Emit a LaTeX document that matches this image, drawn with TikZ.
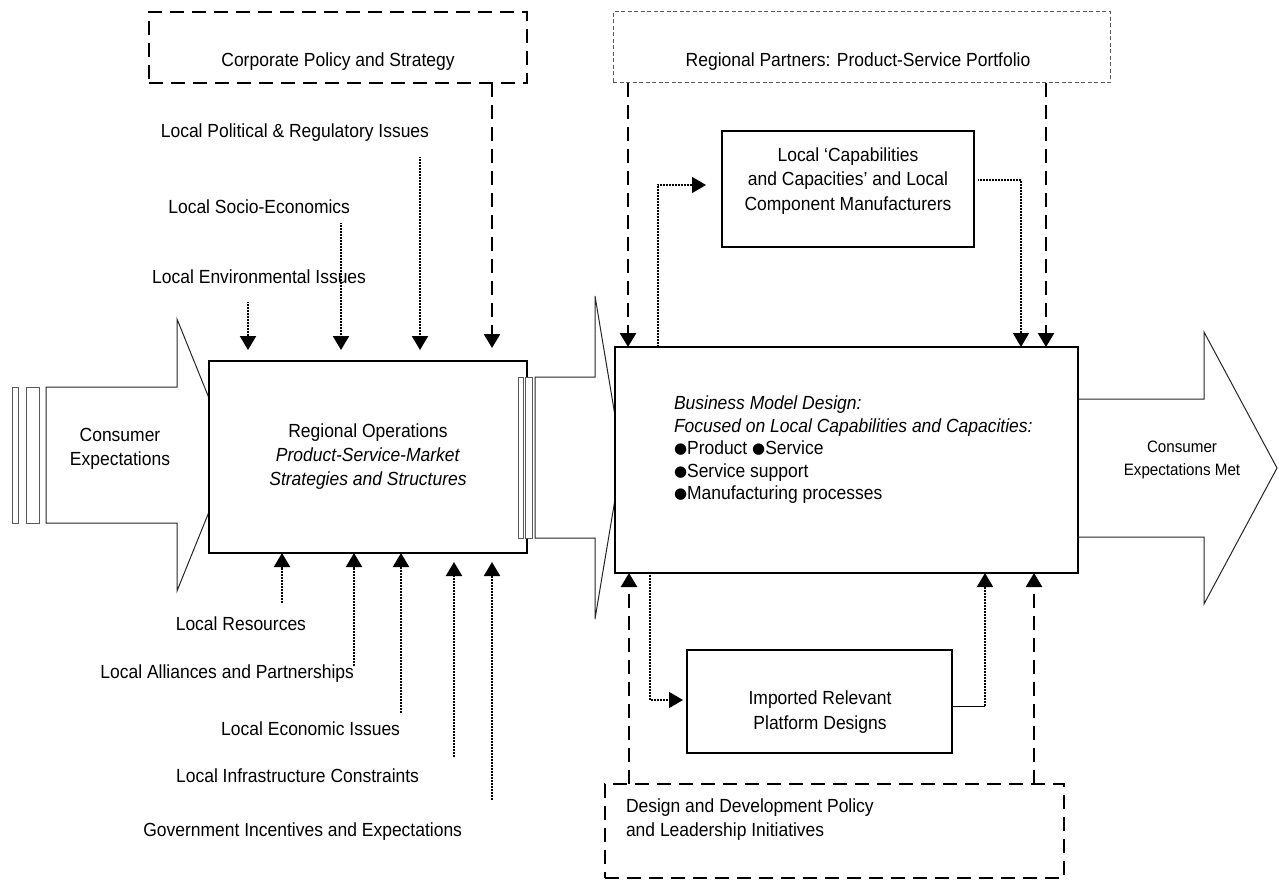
\documentclass[tikz,border=0pt]{standalone}
\usepackage{fontspec}
\setmainfont[FakeStretch=0.92]{Liberation Sans}
\newfontfamily\bulletfont{DejaVu Sans}
\usetikzlibrary{arrows.meta}
\newcommand\bulletmark{\raisebox{0.8pt}{\bulletfont\fontsize{15}{15}\selectfont ●}}

\begin{document}
\begin{tikzpicture}[x=1pt, y=-1pt,
  every node/.style={inner sep=0pt, outer sep=0pt, font=\fontsize{19}{24}\selectfont},
  blockarrow/.style={draw=black!85, line width=1pt, fill=white, line join=miter},
  barstrip/.style={draw=black!65, line width=1pt, fill=white},
  solidbox/.style={draw=black, line width=2pt, fill=white},
  heavydash/.style={draw=black, line width=2pt, dash pattern=on 14pt off 8pt},
  lightdash/.style={draw=black!65, line width=1pt, dash pattern=on 4pt off 2.5pt},
  headtip/.style={-{Triangle[length=14pt,width=16pt]}},
  dasharrow/.style={headtip, line width=2.6pt, dash pattern=on 14pt off 8pt},
  dotarrow/.style={headtip, line width=2pt, dash pattern=on 0.8pt off 0.7pt},
  thinline/.style={line width=1pt},
]
\useasboundingbox (0,0) rectangle (1279,880);

% ---- block arrows: input, transfer, output ----
\draw[blockarrow] (46,387) -- (177,387) -- (177,319) -- (232,455) -- (177,591)
  -- (177,523) -- (46,523) -- cycle;
\draw[barstrip] (12,387) rectangle (18,523);
\draw[barstrip] (26,387) rectangle (39,523);
\node[align=center] (consin) at (120,449) {Consumer\\Expectations};

\draw[blockarrow] (535,377) -- (595,377) -- (595,296) -- (622,457.5) -- (595,619)
  -- (595,538) -- (535,538) -- cycle;

\draw[blockarrow] (1060,399) -- (1204,399) -- (1204,332) -- (1277,468) -- (1204,604)
  -- (1204,537) -- (1060,537) -- cycle;
\node[align=center, font=\fontsize{16.5}{23}\selectfont] (consout) at (1182,460)
  {Consumer\\Expectations Met};

% ---- main blocks ----
\node[solidbox, minimum width=318pt, minimum height=192pt, align=center] (regop) at (368,457)
  {Regional Operations\\\textit{Product-Service-Market}\\\textit{Strategies and Structures}};

\draw[barstrip] (518,377) rectangle (523,538);
\draw[barstrip] (525,377) rectangle (532,538);

\node[solidbox, minimum width=463pt, minimum height=226pt] (bm) at (846.5,460) {};
\node[align=left, anchor=north west, font=\fontsize{19}{22.5}\selectfont] (bmtext) at (674,396)
  {\textit{Business Model Design:}\\
   \textit{Focused on Local Capabilities and Capacities:}\\
   \bulletmark Product \bulletmark Service\\
   \bulletmark Service support\\
   \bulletmark Manufacturing processes};

\node[solidbox, minimum width=252pt, minimum height=116pt] (cap) at (848,189) {};
\node[align=center, font=\fontsize{19}{24.5}\selectfont] (captext) at (848,181)
  {Local ‘Capabilities\\and Capacities’ and Local\\Component Manufacturers};

\node[solidbox, minimum width=265pt, minimum height=103pt] (imp) at (819.5,701.5) {};
\node[align=center, font=\fontsize{19}{25}\selectfont] (imptext) at (820,712)
  {Imported Relevant\\Platform Designs};

% ---- policy frames ----
\node[heavydash, minimum width=378pt, minimum height=71pt] (corp) at (338,47.5) {};
\node (corptext) at (338,62) {Corporate Policy and Strategy};

\node[lightdash, minimum width=497pt, minimum height=71pt] (partners) at (861.5,47.5) {};
\node (partnerstext) at (858,62) {Regional Partners: Product-Service Portfolio};

\node[heavydash, minimum width=459pt, minimum height=94pt] (design) at (834.5,831) {};
\node[align=left, anchor=north west] (designtext) at (626,799)
  {Design and Development Policy\\and Leadership Initiatives};

% ---- local factors above the regional block ----
\node[anchor=base east] (polit) at (429,137) {Local Political \& Regulatory Issues};
\node[anchor=base east] (socio) at (350,213) {Local Socio-Economics};
\node[anchor=base east] (envir) at (366,283) {Local Environmental Issues};

\coordinate (envS) at (248,302);
\coordinate (socS) at (341,223);
\coordinate (polS) at (420,157);
\coordinate (corpX) at (492,0);
\draw[dotarrow, shorten >=11pt] (envS) -- (envS |- regop.north);
\draw[dotarrow, shorten >=11pt] (socS) -- (socS |- regop.north);
\draw[dotarrow, shorten >=11pt] (polS) -- (polS |- regop.north);
\draw[dasharrow, shorten >=13pt] (corp.south -| corpX) -- (regop.north -| corpX);

% ---- local factors below the regional block ----
\node[anchor=base east] (resou) at (306,630) {Local Resources};
\node[anchor=base east] (allia) at (354,678) {Local Alliances and Partnerships};
\node[anchor=base east] (econo) at (400,735) {Local Economic Issues};
\node[anchor=base east] (infra) at (419,782) {Local Infrastructure Constraints};
\node[anchor=base east] (gover) at (462,836) {Government Incentives and Expectations};

\coordinate (resS) at (282,603);
\coordinate (allS) at (354,666);
\coordinate (ecoS) at (401,713);
\coordinate (infS) at (454,757);
\coordinate (govS) at (492,800);
\draw[dotarrow] (resS) -- (resS |- regop.south);
\draw[dotarrow] (allS) -- (allS |- regop.south);
\draw[dotarrow] (ecoS) -- (ecoS |- regop.south);
\draw[dotarrow, shorten >=9pt] (infS) -- (infS |- regop.south);
\draw[dotarrow, shorten >=9pt] (govS) -- (govS |- regop.south);

% ---- partner portfolio and policy into the business model ----
\coordinate (pL) at (628,0);
\coordinate (pR) at (1046,0);
\draw[dasharrow] (partners.south -| pL) -- (bm.north -| pL);
\draw[dasharrow] (partners.south -| pR) -- (bm.north -| pR);

\coordinate (dL) at (629,0);
\coordinate (dR) at (1034,0);
\draw[dasharrow] (design.north -| dL) -- (bm.south -| dL);
\draw[dasharrow] (design.north -| dR) -- (bm.south -| dR);

% ---- exchanges with local capabilities and imported designs ----
\coordinate (capUp) at (658,0);
\coordinate (capDn) at (1021,0);
\draw[dotarrow, line width=1.4pt, shorten >=16pt] (bm.north -| capUp) |- ([yshift=4pt]cap.west);
\draw[dotarrow, line width=1.6pt, shorten <=4pt] ([yshift=9pt]cap.east) -| (bm.north -| capDn);

\coordinate (impDn) at (650,0);
\coordinate (impTurn) at (985,706);
\draw[dotarrow, line width=1.6pt, shorten >=4pt] (bm.south -| impDn) |- ([yshift=1.5pt]imp.west);
\draw[thinline] ([yshift=-4.5pt]imp.east) -- (impTurn);
\draw[dotarrow] (impTurn) -- (impTurn |- bm.south);

\end{tikzpicture}
\end{document}
